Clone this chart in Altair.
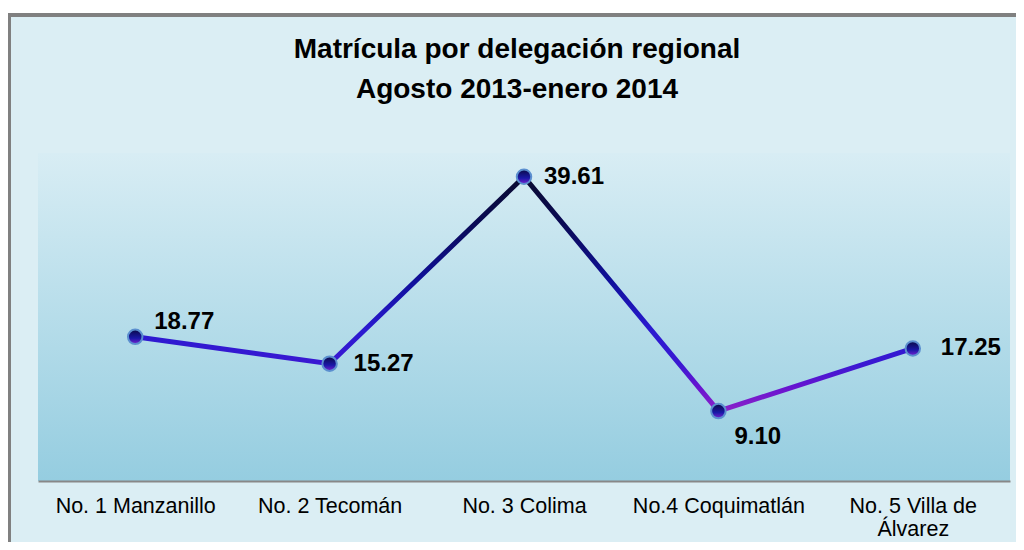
import altair as alt
import pandas as pd

CATEGORIES = ["No. 1 Manzanillo", "No. 2 Tecomán", "No. 3 Colima", "No.4 Coquimatlán", "No. 5 Villa de Álvarez"]
VALUES = [18.77, 15.27, 39.61, 9.10, 17.25]
TITLE_LINES = ["Matrícula por delegación regional", "Agosto 2013-enero 2014"]

df = pd.DataFrame({"cat": CATEGORIES, "val": VALUES})
one = pd.DataFrame({"k": [0]})

W, H = 972, 328
FONT = "Liberation Sans"

x_enc = alt.X("cat:N", sort=CATEGORIES, title=None,
              scale=alt.Scale(paddingInner=0, paddingOuter=0),
              axis=alt.Axis(labelAngle=0, ticks=False, domainColor="#888888", domainWidth=2,
                            labelFont=FONT, labelFontSize=21.5, labelColor="#000000",
                            labelPadding=14, labelLineHeight=23, zindex=1,
                            labelExpr="datum.label == 'No. 5 Villa de Álvarez' ? ['No. 5 Villa de', 'Álvarez'] : datum.label"))
y_enc = alt.Y("val:Q", scale=alt.Scale(domain=[0, 42.7], nice=False), axis=None)

top_white = alt.Chart(one).mark_rect(fill="#ffffff").encode(
    x=alt.value(-40), x2=alt.value(W + 30), y=alt.value(-150), y2=alt.value(-140))
inner = alt.Chart(one).mark_rect(fill="#dbeef4").encode(
    x=alt.value(-27), x2=alt.value(W + 30), y=alt.value(-136), y2=alt.value(H + 90))
frame_top = alt.Chart(one).mark_rect(fill="#808080").encode(
    x=alt.value(-31), x2=alt.value(W + 30), y=alt.value(-140), y2=alt.value(-136))
frame_left = alt.Chart(one).mark_rect(fill="#808080").encode(
    x=alt.value(-31), x2=alt.value(-27), y=alt.value(-140), y2=alt.value(H + 90))
plotbg = alt.Chart(one).mark_rect(fill=alt.Gradient(
    gradient="linear", x1=0, x2=0, y1=0, y2=1,
    stops=[alt.GradientStop(offset=0, color="#d8edf4"),
           alt.GradientStop(offset=1, color="#95cde0")])).encode(
    x=alt.value(0), x2=alt.value(W), y=alt.value(0), y2=alt.value(H))

title = alt.Chart(one).mark_text(font=FONT, fontSize=28, fontWeight="bold", color="#000000",
                                 align="center", baseline="middle", lineHeight=40).encode(
    x=alt.value(479), y=alt.value(-103), text=alt.value(TITLE_LINES))

base = alt.Chart(df)
line = base.mark_line(strokeWidth=5, stroke=alt.Gradient(
    gradient="linear", x1=0, x2=0, y1=0, y2=1,
    stops=[alt.GradientStop(offset=0, color="#0b0b30"),
           alt.GradientStop(offset=0.2, color="#0a0a55"),
           alt.GradientStop(offset=0.45, color="#10109c"),
           alt.GradientStop(offset=0.65, color="#2a1ad0"),
           alt.GradientStop(offset=0.8, color="#3a18d2"),
           alt.GradientStop(offset=0.9, color="#6814d0"),
           alt.GradientStop(offset=1, color="#8a22c8")])).encode(x=x_enc, y=y_enc)

pts = base.mark_point(filled=True, shape="circle", size=210, strokeWidth=2, opacity=1,
                      fill=alt.Gradient(gradient="linear", x1=0, x2=0, y1=0, y2=1,
                                        stops=[alt.GradientStop(offset=0, color="#0a0a45"),
                                               alt.GradientStop(offset=0.6, color="#1a18a8"),
                                               alt.GradientStop(offset=1, color="#7a22d0")]),
                      stroke="#5b8fcf").encode(x=x_enc, y=y_enc)

lab_kw = dict(font=FONT, fontSize=24, fontWeight="bold", color="#000000", align="left", baseline="middle")
txt_enc = dict(x=x_enc, y=y_enc, text=alt.Text("val:Q", format=".2f"))
lab_above = base.transform_filter(alt.datum.cat == CATEGORIES[0]).mark_text(dx=19, dy=-15, **lab_kw).encode(**txt_enc)
lab_mid = base.transform_filter(alt.datum.cat == CATEGORIES[1]).mark_text(dx=24, dy=0, **lab_kw).encode(**txt_enc)
lab_top = base.transform_filter(alt.datum.cat == CATEGORIES[2]).mark_text(dx=20, dy=0, **lab_kw).encode(**txt_enc)
lab_right2 = base.transform_filter(alt.datum.cat == CATEGORIES[4]).mark_text(dx=28, dy=0, **lab_kw).encode(**txt_enc)
lab_below = base.transform_filter(alt.datum.cat == CATEGORIES[3]).mark_text(dx=16, dy=26, **lab_kw).encode(**txt_enc)

chart = alt.layer(top_white, inner, frame_top, frame_left, plotbg, title, line, pts,
                  lab_above, lab_mid, lab_top, lab_right2, lab_below).properties(
    width=W, height=H,
    autosize=alt.AutoSizeParams(type="none"),
    padding={"left": 30, "top": 145, "right": 6, "bottom": 61},
).configure(background="#dbeef4").configure_view(stroke=None)

chart.save("out.html", embed_options={"renderer": "svg", "actions": False})
